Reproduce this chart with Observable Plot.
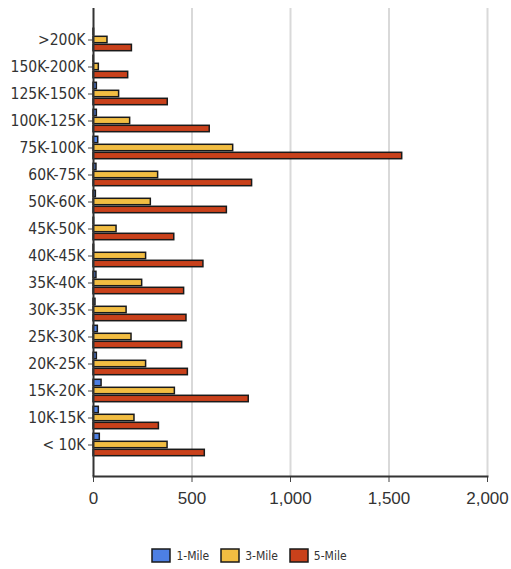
<!DOCTYPE html>
<html>
<head>
<meta charset="utf-8">
<script src="https://cdn.jsdelivr.net/npm/d3@7"></script>
<script src="https://cdn.jsdelivr.net/npm/@observablehq/plot@0.6"></script>
<style>
  body { margin: 0; background: #fff; }
  #chart { width: 511px; }
  #legend { display: flex; justify-content: center; margin-top: 24px; }
  #legend > div { justify-content: center; font-family: "DejaVu Sans Condensed", sans-serif !important; font-size: 12px !important; color: #333; }
  #legend svg rect { stroke: #1a1a1a; stroke-width: 1.5px; }
</style>
</head>
<body>
<div id="chart"></div>
<script>
const categories = [">200K","150K-200K","125K-150K","100K-125K","75K-100K","60K-75K","50K-60K","45K-50K","40K-45K","35K-40K","30K-35K","25K-30K","20K-25K","15K-20K","10K-15K","< 10K"];
const series = ["1-Mile","3-Mile","5-Mile"];
const mile1 = [3, 2, 17, 17, 24, 15, 12, 3, 3, 15, 10, 22, 17, 41, 27, 32];
const mile3 = [71, 27, 130, 186, 709, 328, 291, 117, 267, 247, 168, 193, 267, 413, 208, 376];
const mile5 = [195, 176, 377, 590, 1567, 805, 677, 410, 558, 460, 472, 450, 479, 788, 332, 565];
const xTicks = [0, 500, 1000, 1500, 2000];
const colors = ["#4d7fe3", "#f2bd42", "#c9411b"];

const valuesBySeries = [mile1, mile3, mile5];
const rows = series.map((s, i) => categories.map((c, j) => ({series: s, category: c, value: valuesBySeries[i][j]})));
const offsets = [-8, 0, 8];
const narrow = "'DejaVu Sans Condensed', sans-serif";

const plot = Plot.plot({
  width: 511,
  height: 515,
  marginLeft: 93,
  marginRight: 24,
  marginTop: 8,
  marginBottom: 39,
  style: {background: "#fff", color: "#333"},
  x: {domain: [0, 2000], ticks: xTicks},
  y: {domain: categories, padding: 0, insetTop: 13.2, insetBottom: 13.2},
  color: {domain: series, range: colors},
  marks: [
    Plot.gridX(xTicks.slice(1), {stroke: "#d9d9d9", strokeOpacity: 1, strokeWidth: 2}),
    ...rows.map((r, i) => Plot.barX(r, {
      x: "value", y: "category", fill: "series", dy: offsets[i],
      insetTop: 10.3, insetBottom: 10.3, stroke: "#1a1a1a", strokeWidth: 1.5
    })),
    Plot.axisX({ticks: xTicks, tickFormat: d3.format(",d"), tickSize: 6, tickPadding: 9, fontSize: 17, fontFamily: "'Liberation Sans', Arial, sans-serif", stroke: "#444", label: null}),
    Plot.axisY({tickSize: 5, tickPadding: 3, fontSize: 15.5, fontFamily: narrow, stroke: "#444", label: null}),
    Plot.ruleX([0], {stroke: "#333", strokeWidth: 2}),
    Plot.frame({anchor: "bottom", stroke: "#333", strokeWidth: 2})
  ]
});
document.getElementById("chart").appendChild(plot);

const legendWrap = document.createElement("div");
legendWrap.id = "legend";
legendWrap.appendChild(plot.legend("color", {swatchWidth: 18, swatchHeight: 13}));
document.body.appendChild(legendWrap);
</script>
</body>
</html>
